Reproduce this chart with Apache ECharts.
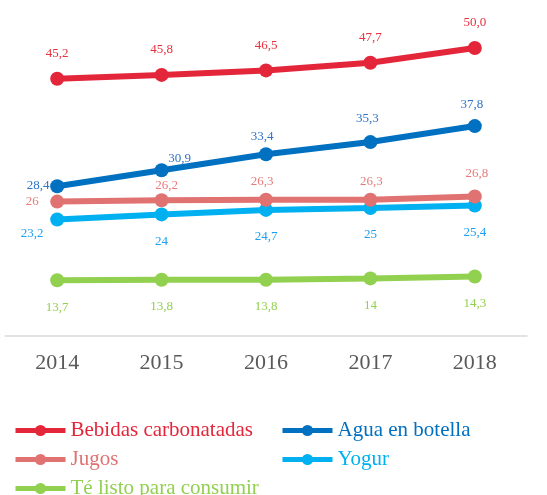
<!DOCTYPE html>
<html>
<head>
<meta charset="utf-8">
<script src="https://cdn.jsdelivr.net/npm/echarts@6/dist/echarts.min.js"></script>
<style>html,body{margin:0;padding:0;background:#fff}#c{width:547px;height:495px}</style>
</head>
<body>
<div id="c"></div>
<script>
// ---- data ----
var years = ['2014', '2015', '2016', '2017', '2018'];
var bebidas = [45.2, 45.8, 46.5, 47.7, 50.0];
var agua = [28.4, 30.9, 33.4, 35.3, 37.8];
var jugos = [26, 26.2, 26.3, 26.3, 26.8];
var yogur = [23.2, 24, 24.7, 25, 25.4];
var te = [13.7, 13.8, 13.8, 14, 14.3];
var names = ['Bebidas carbonatadas', 'Agua en botella', 'Jugos', 'Yogur', 'Té listo para consumir'];

// ---- styling ----
var lineColors = ['#E3263A', '#0070C0', '#E07272', '#00B0F0', '#92D050'];
var labelColors = ['#E8303E', '#2E74C8', '#E87A7A', '#1EA0F0', '#92D050'];
var labelOffsets = [
  [[0,-25],[0,-25],[0,-25],[0,-25],[0,-25]],
  [[-19,-1],[18,-12],[-4,-18],[-3,-24],[-3,-22]],
  [[-25,0],[5,-15],[-4,-18],[1,-18],[2,-23]],
  [[-25,14],[0,27],[0,27],[0,27],[0,27]],
  [[0,27],[0,27],[0,27],[0,27],[0,27]]
];
var legendPos = [[8, 415], [275, 415], [8, 444], [275, 444], [8, 473]];
var serif = '"Liberation Serif", "DejaVu Serif", serif';

function fmt(v) {
  var s = String(v);
  if (v === 50) s = '50.0';
  return s.replace('.', ',');
}

var allData = [bebidas, agua, jugos, yogur, te];
var series = allData.map(function (arr, i) {
  return {
    name: names[i],
    type: 'line',
    data: arr.map(function (v, j) {
      return { value: v, label: { offset: labelOffsets[i][j] } };
    }),
    symbol: 'circle',
    symbolSize: 14,
    lineStyle: { width: 6, color: lineColors[i] },
    itemStyle: { color: lineColors[i] },
    z: 10 - i,
    label: {
      show: true,
      position: 'inside',
      align: 'center',
      verticalAlign: 'middle',
      color: labelColors[i],
      fontFamily: serif,
      fontSize: 13,
      formatter: function (p) { return fmt(p.value); }
    },
    emphasis: { disabled: true },
    animation: false
  };
});

var legends = names.map(function (n, i) {
  return {
    left: legendPos[i][0],
    top: legendPos[i][1],
    data: [{ name: n, textStyle: { color: lineColors[i] } }],
    itemWidth: 50,
    itemHeight: 14,
    itemStyle: { borderWidth: 0 },
    lineStyle: { width: 5 },
    textStyle: { fontFamily: serif, fontSize: 21 },
    selectedMode: false
  };
});

var option = {
  backgroundColor: '#ffffff',
  animation: false,
  grid: { left: 5, right: 20, top: 16, bottom: 159 },
  xAxis: {
    type: 'category',
    data: years,
    boundaryGap: true,
    axisLine: { show: true, lineStyle: { color: '#D9D9D9', width: 1.5 } },
    axisTick: { show: false },
    axisLabel: { color: '#595959', fontFamily: serif, fontSize: 22, margin: 16 },
    splitLine: { show: false }
  },
  yAxis: {
    type: 'value',
    min: 5,
    max: 55,
    show: false,
    splitLine: { show: false }
  },
  legend: legends,
  series: series
};

var chart = echarts.init(document.getElementById('c'), null, { renderer: 'canvas' });
chart.setOption(option);
</script>
</body>
</html>
